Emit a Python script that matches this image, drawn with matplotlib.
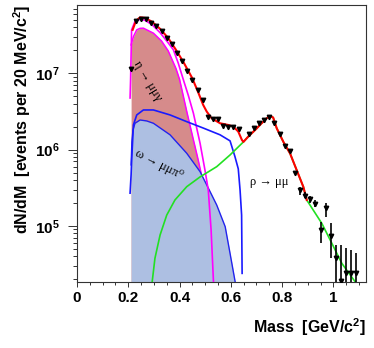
import matplotlib
matplotlib.use("Agg")
import matplotlib.pyplot as plt
from matplotlib.ticker import MultipleLocator, LogLocator, NullFormatter

plt.rcParams['font.family'] = 'Liberation Sans'
plt.rcParams['mathtext.fontset'] = 'custom'
plt.rcParams['mathtext.rm'] = 'Liberation Sans:bold'
plt.rcParams['mathtext.bf'] = 'Liberation Sans:bold'
plt.rcParams['mathtext.it'] = 'Liberation Sans:bold'

# measured spectrum (20 MeV bins)
mass = [0.21, 0.23, 0.25, 0.27, 0.29, 0.31, 0.33, 0.35, 0.37, 0.39, 0.41, 0.43,
        0.45, 0.47, 0.49, 0.51, 0.53, 0.55, 0.57, 0.59, 0.61, 0.63, 0.67, 0.69,
        0.71, 0.73, 0.75, 0.77, 0.79, 0.81, 0.83, 0.85, 0.87, 0.89, 0.91, 0.93,
        0.95, 0.97, 0.99, 1.01, 1.03, 1.05, 1.07, 1.09]
counts = [1.14e7, 4.84e7, 5.14e7, 5.14e7, 4.52e7, 4.13e7, 3.51e7, 2.92e7, 2.42e7,
          1.86e7, 1.44e7, 1.07e7, 8.1e6, 5.98e6, 4.47e6, 2.69e6, 2.51e6, 2.51e6,
          2.04e6, 2.0e6, 2.0e6, 1.86e6, 1.62e6, 1.91e6, 2.21e6, 2.45e6, 2.69e6,
          2.24e6, 1.62e6, 1.10e6, 9.5e5, 4.9e5, 2.95e5, 2.5e5, 2.24e5, 1.95e5,
          8.9e4, 1.70e5, 7.4e4, 3.8e4, 1.9e4, 2.43e4, 2.43e4, 2.43e4]

# error bars on the high-mass tail
tail_mass = [0.87, 0.89, 0.91, 0.93, 0.95, 0.97, 0.99, 1.01, 1.03, 1.05, 1.07, 1.09]
tail_lo = [2.55e5, 2.31e5, 1.98e5, 1.79e5, 5.93e4, 1.32e5, 3.78e4, 1e4, 1e4, 1e4, 1e4, 1e4]
tail_hi = [3.27e5, 2.81e5, 2.47e5, 2.19e5, 1.14e5, 1.98e5, 1.08e5, 5.64e4, 5.64e4,
           5.1e4, 4.85e4, 4.39e4]

# total fit
fit_m = [0.217, 0.230, 0.246, 0.265, 0.293, 0.324, 0.355, 0.386, 0.417, 0.449,
         0.472, 0.492, 0.506, 0.525, 0.558, 0.590, 0.610, 0.629, 0.643, 0.649,
         0.668, 0.695, 0.720, 0.740, 0.753, 0.765, 0.779, 0.805, 0.831, 0.857,
         0.883, 0.896]
fit_y = [3.69e7, 4.84e7, 5.38e7, 5.30e7, 4.70e7, 3.80e7, 2.90e7, 2.02e7, 1.36e7,
         8.67e6, 5.69e6, 3.85e6, 3.14e6, 2.57e6, 2.21e6, 2.10e6, 2.0e6, 1.72e6,
         1.34e6, 1.26e6, 1.48e6, 1.81e6, 2.21e6, 2.57e6, 2.75e6, 2.63e6, 1.9e6,
         1.26e6, 8.9e5, 5.37e5, 3.24e5, 2.19e5]

# rho -> mu mu
rho_m = [0.290, 0.294, 0.304, 0.324, 0.350, 0.382, 0.428, 0.480, 0.545, 0.597,
         0.649, 0.668, 0.695, 0.720, 0.740, 0.753, 0.765, 0.779, 0.805, 0.831,
         0.857, 0.883, 0.896, 0.955, 0.994, 1.033, 1.085, 1.10]
rho_y = [1.5e4, 1.96e4, 3.78e4, 7.62e4, 1.39e5, 2.19e5, 3.27e5, 4.39e5, 5.98e5,
         8.51e5, 1.26e6, 1.48e6, 1.81e6, 2.21e6, 2.57e6, 2.75e6, 2.63e6, 1.9e6,
         1.26e6, 8.9e5, 5.37e5, 3.24e5, 2.19e5, 1.08e5, 5.93e4, 3.24e4, 1.86e4, 1.5e4]

# eta Dalitz (filled) and outer eta curve
eta_m = [0.211, 0.220, 0.233, 0.246, 0.259, 0.298, 0.330, 0.356, 0.386, 0.400,
         0.428, 0.454, 0.473, 0.487, 0.499, 0.510, 0.520]
eta_y = [2.34e7, 3.01e7, 3.69e7, 3.86e7, 3.88e7, 3.34e7, 2.63e7, 1.95e7, 1.15e7,
         8.3e6, 3.16e6, 1.34e6, 7.24e5, 4.43e5, 2.51e5, 1e5, 1.58e4]
eta2_m = [0.207, 0.209, 0.213, 0.226, 0.246, 0.265, 0.293, 0.324, 0.355, 0.376,
          0.395, 0.415, 0.435, 0.454, 0.480, 0.499, 0.512, 0.523, 0.532, 0.536]
eta2_y = [4.73e6, 8.17e6, 3.69e7, 4.74e7, 5.07e7, 4.92e7, 4.30e7, 3.39e7, 2.51e7,
          2.02e7, 1.35e7, 8.17e6, 5.01e6, 2.99e6, 1.21e6, 5.41e5, 2.96e5, 8.9e4,
          1.95e4, 1.2e4]

# omega Dalitz (filled) and outer omega curve
om_m = [0.211, 0.211, 0.214, 0.218, 0.226, 0.246, 0.272, 0.298, 0.363, 0.428,
        0.480, 0.519, 0.545, 0.578, 0.597, 0.617, 0.625]
om_y = [1e4, 6.3e5, 1.26e6, 1.78e6, 2.21e6, 2.44e6, 2.37e6, 2.21e6, 1.56e6,
        8.95e5, 5.14e5, 2.82e5, 1.88e5, 9.8e4, 4.37e4, 1.85e4, 1e4]
om2_m = [0.207, 0.211, 0.213, 0.220, 0.233, 0.259, 0.298, 0.363, 0.428, 0.493,
         0.558, 0.597, 0.616, 0.629, 0.636, 0.642, 0.644]
om2_y = [2.69e5, 4.68e5, 6.95e5, 2.10e6, 2.84e6, 3.30e6, 3.30e6, 2.84e6, 2.32e6,
         1.91e6, 1.56e6, 1.30e6, 8.1e5, 5.6e5, 2.95e5, 1.39e5, 2.4e4]

fig = plt.figure(figsize=(3.74, 3.48), dpi=100)
ax = fig.add_axes([77 / 374, 1 - 282 / 348, 288.7 / 374, 277 / 348])

ax.fill_between(eta_m, 1e4, eta_y, color='#d68b8b', lw=0, zorder=1)
ax.plot(eta_m, eta_y, color='#ff00ff', lw=1.1, zorder=1.5)
ax.fill_between(om_m, 1e4, om_y, color='#adbfe2', lw=0, zorder=2)
ax.plot(om_m[1:], om_y[1:], color='#2222ee', lw=1.0, zorder=2.5)
ax.plot(eta2_m, eta2_y, color='#ff00ff', lw=1.2, zorder=3)
ax.plot(om2_m, om2_y, color='#1a1aff', lw=1.2, zorder=3)
ax.plot(rho_m, rho_y, color='#22e022', lw=1.2, zorder=3.2)
ax.plot(fit_m, fit_y, color='#ff0000', lw=1.5, zorder=3.5)

ax.vlines(tail_mass, tail_lo, tail_hi, color='black', lw=1.2, zorder=4)
ax.plot(mass, counts, 'v', color='black', ms=3.2, zorder=5)

ax.set_yscale('log')
ax.set_xlim(0, 1.126)
ax.set_ylim(1.85e4, 7.8e7)

ax.set_xticks([0, 0.2, 0.4, 0.6, 0.8, 1.0])
ax.set_xticklabels(['0', '0.2', '0.4', '0.6', '0.8', '1'])
ax.xaxis.set_minor_locator(MultipleLocator(0.05))
ax.set_yticks([1e5, 1e6, 1e7])
ax.set_yticklabels([r'$\mathbf{10^{5}}$', r'$\mathbf{10^{6}}$', r'$\mathbf{10^{7}}$'])
ax.yaxis.set_minor_locator(LogLocator(base=10, subs=range(2, 10)))
ax.yaxis.set_minor_formatter(NullFormatter())

ax.tick_params(axis='x', which='major', length=3.5, width=0.7, pad=3,
               labelsize=11, color='#333333')
ax.tick_params(axis='x', which='minor', length=2.5, width=0.7, color='#333333')
ax.tick_params(axis='y', which='major', length=6.5, width=0.7, pad=6,
               labelsize=11, color='#333333')
ax.tick_params(axis='y', which='minor', length=3.2, width=0.7, color='#333333')
for lab in ax.get_xticklabels():
    lab.set_fontweight('bold')
for s in ax.spines.values():
    s.set_color('#333333')
    s.set_linewidth(0.8)

serif = ['Liberation Serif', 'DejaVu Serif']
ax.text(0.277, 7.9e6, 'η → μμγ', family=serif, fontsize=9, rotation=-59,
        ha='center', va='center', zorder=6)
ax.text(0.318, 6.4e5, 'ω → μμπ⁰', family=serif, fontsize=9, rotation=-27,
        ha='center', va='center', zorder=6)
ax.text(0.675, 3.77e5, 'ρ → μμ', family=serif, fontsize=9,
        ha='left', va='center', zorder=6)

fig.text(22 / 374, 1 - 5 / 348, r'dN/dM  [events per 20 MeV/c$^{2}$]',
         rotation=90, ha='center', va='top', fontsize=11.5, fontweight='bold')
fig.text(365.5 / 374, 1 - 333.3 / 348, r'Mass  [GeV/c$^{2}$]',
         ha='right', va='baseline', fontsize=11.5, fontweight='bold')

fig.savefig('out.png', dpi=100)
